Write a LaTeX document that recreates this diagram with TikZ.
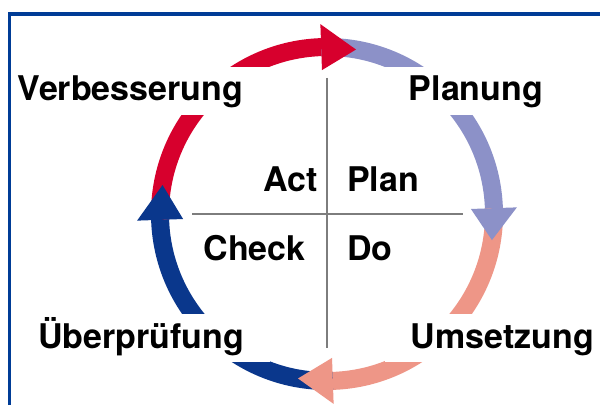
\documentclass[tikz,border=0pt]{standalone}
\usepackage{fontspec}
\newfontfamily\labfont{TeX Gyre Heros}
\definecolor{actred}{RGB}{215,0,45}
\definecolor{planlav}{RGB}{140,145,200}
\definecolor{dosalmon}{RGB}{238,150,135}
\definecolor{checkblue}{RGB}{10,55,140}
\definecolor{framecol}{RGB}{0,60,150}
\definecolor{crossgray}{RGB}{125,125,125}
\begin{document}
\begin{tikzpicture}[x=1pt,y=1pt,
  band/.style={line width=18pt},
  outer/.style={font=\labfont\bfseries\fontsize{34}{40}\selectfont, fill=white,
     text height=26pt, text depth=6pt, inner ysep=8pt, inner xsep=26pt, anchor=base},
  inner/.style={font=\labfont\bfseries\fontsize{34}{40}\selectfont, inner sep=0pt},
  crossline/.style={draw=crossgray, line width=1.8pt}]
\useasboundingbox (0,0) rectangle (600,405);
\fill[white] (0,0) rectangle (600,405);
\begin{scope}[shift={(327,191)}]
  % bands
  \draw[band, actred] (182:167) arc[start angle=182, end angle=92, radius=167];
  \draw[band, planlav] (92:167) arc[start angle=92, end angle=2, radius=167];
  \draw[band, dosalmon] (2:167) arc[start angle=2, end angle=-88, radius=167];
  \draw[band, checkblue] (-88:167) arc[start angle=-88, end angle=-178, radius=167];
  % heads
  \fill[actred] (92:144) -- (92:190) -- (80:167) -- cycle;
  \fill[planlav] (2:144) -- (2:190) -- (-9:167) -- cycle;
  \fill[dosalmon] (-88:144) -- (-88:190) -- (-100:167) -- cycle;
  \fill[checkblue] (-178:144) -- (-178:190) -- (-190:167) -- cycle;
\end{scope}
% outer labels
\node[outer] (verb) at (130.5,304) {Verbesserung};
\node[outer] (plang) at (476,304) {Planung};
\node[outer] (uebp) at (141,57) {Überprüfung};
\node[outer] (ums) at (502.5,57) {Umsetzung};
% cross
\coordinate (ctop) at (327,327);
\coordinate (cbot) at (327,57);
\coordinate (cleft) at (192,191);
\coordinate (cright) at (463,191);
\draw[crossline] (ctop) -- (cbot);
\draw[crossline] (cleft) -- (cright);
% inner labels
\node[inner, anchor=base east] (act) at (318,213) {Act};
\node[inner, anchor=base west] (plan) at (347,213) {Plan};
\node[inner, anchor=base east] (check) at (306,145) {Check};
\node[inner, anchor=base west] (do) at (347,145) {Do};
% frame
\coordinate (fa) at (9.5,0);
\coordinate (fb) at (9.5,391);
\coordinate (fc) at (600,391);
\draw[framecol, line width=3.5pt] (fa) -- (fb) -- (fc);
\end{tikzpicture}
\end{document}
